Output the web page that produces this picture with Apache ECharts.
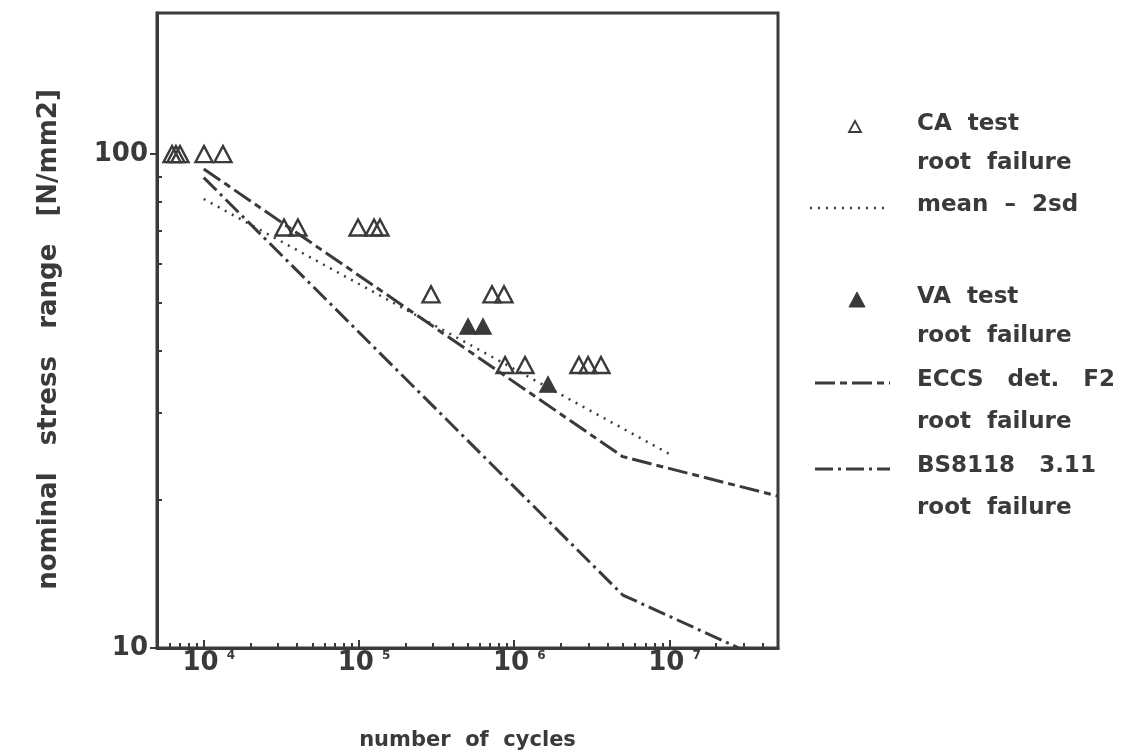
<!DOCTYPE html>
<html>
<head>
<meta charset="utf-8">
<script src="https://cdn.jsdelivr.net/npm/echarts@6/dist/echarts.min.js"></script>
<style>
html,body{margin:0;padding:0;background:#fff;}
#chart{width:1144px;height:756px;}
</style>
</head>
<body>
<div id="chart"></div>
<script>
// ---- data ----
const caCycles = [6250, 6620, 7030, 10040, 13300, 32900, 40400, 98600, 125000, 136500, 291000, 719000, 859000, 873000, 1173000, 2610000, 2990000, 3620000];
const caStress = [100, 100, 100, 100, 100, 71, 71, 71, 71, 71, 52, 52, 52, 37.4, 37.4, 37.4, 37.4, 37.4];
const vaCycles = [504000, 629000, 1650000];
const vaStress = [44.8, 44.8, 34.2];
const meanCycles = [10000, 10000000];
const meanStress = [81.1, 24.7];
const eccsCycles = [10000, 5000000, 50000000];
const eccsStress = [93.3, 24.4, 20.3];
const bsCycles = [10000, 5000000, 28000000];
const bsStress = [89.6, 12.8, 10];

const xMajorTicks = [10000, 100000, 1000000, 10000000];
const xMinorTicks = [6000, 7000, 8000, 9000, 20000, 30000, 40000, 50000, 60000, 70000, 80000, 90000,
  200000, 300000, 400000, 500000, 600000, 700000, 800000, 900000,
  2000000, 3000000, 4000000, 5000000, 6000000, 7000000, 8000000, 9000000, 20000000, 30000000, 40000000];
const yMajorTicks = [10, 100];
const yMinorTicks = [20, 30, 40, 50, 60, 70, 80, 90];
const xRange = [5000, 50000000];
const yRange = [10, 193];

const legendLabels = [
  ['CA  test', 'root  failure'],
  ['mean  \u2013  2sd'],
  ['VA  test', 'root  failure'],
  ['ECCS   det.   F2', 'root  failure'],
  ['BS8118   3.11', 'root  failure']
];

// ---- styles ----
const INK = '#3a3a3a';
const FONT = '"DejaVu Sans", sans-serif';
const dashECCS = [20, 5, 7, 5];
const dashBS = [18, 5, 3, 5];
const dashMean = [2, 6];

function zip(a, b) { return a.map((v, i) => [v, b[i]]); }

const chart = echarts.init(document.getElementById('chart'), null, {renderer: 'canvas'});

const grid = {left: 157, top: 13, right: 366, bottom: 106, show: true, borderColor: INK, borderWidth: 3, backgroundColor: 'transparent'};

const legendX0 = 917;
const legendText = [];
const legendRows = [[127, 166], [208], [300, 339], [383, 425], [469, 511]];
legendLabels.forEach((lines, i) => {
  lines.forEach((t, j) => {
    legendText.push({type: 'text', left: legendX0, top: legendRows[i][j] - 14,
      style: {text: t, font: 'bold 23px ' + FONT, fill: INK}});
  });
});

const option = {
  backgroundColor: '#fff',
  animation: false,
  grid: grid,
  xAxis: [
    {type: 'log', logBase: 10, min: xRange[0], max: xRange[1], gridIndex: 0,
      axisLine: {show: true, lineStyle: {color: INK, width: 3}},
      axisTick: {show: true, inside: true, length: 8, lineStyle: {color: INK, width: 2}, customValues: xMajorTicks},
      axisLabel: {show: true, customValues: xMajorTicks, margin: 2,
        formatter: function (v) { return '{b|10}{e|' + Math.round(Math.log10(v)) + '}'; },
        rich: {
          b: {fontFamily: FONT, fontWeight: 'bold', fontSize: 26, lineHeight: 26, color: INK, padding: [0, 0, 0, 10]},
          e: {fontFamily: FONT, fontWeight: 'bold', fontSize: 12, lineHeight: 12, color: INK, padding: [0, 0, 14, 8]}
        }},
      splitLine: {show: false},
      name: 'number  of  cycles', nameLocation: 'middle', nameGap: 82,
      nameTextStyle: {fontFamily: FONT, fontWeight: 'bold', fontSize: 21, color: INK}
    },
    {type: 'log', logBase: 10, min: xRange[0], max: xRange[1], gridIndex: 0, position: 'bottom',
      axisLine: {show: false},
      axisTick: {show: true, inside: true, length: 5, lineStyle: {color: INK, width: 2}, customValues: xMinorTicks},
      axisLabel: {show: false}, splitLine: {show: false}
    }
  ],
  yAxis: [
    {type: 'log', logBase: 10, min: yRange[0], max: yRange[1], gridIndex: 0,
      axisLine: {show: true, lineStyle: {color: INK, width: 3}},
      axisTick: {show: true, inside: false, length: 7, lineStyle: {color: INK, width: 2}, customValues: yMajorTicks},
      axisLabel: {show: true, customValues: yMajorTicks, margin: 9,
        fontFamily: FONT, fontWeight: 'bold', fontSize: 26, color: INK},
      splitLine: {show: false},
      name: 'nominal   stress   range   [N/mm2]', nameLocation: 'middle', nameGap: 95, nameRotate: 90,
      nameTextStyle: {fontFamily: FONT, fontWeight: 'bold', fontSize: 26, color: INK, padding: [0, 18, 0, 0]}
    },
    {type: 'log', logBase: 10, min: yRange[0], max: yRange[1], gridIndex: 0, position: 'left',
      axisLine: {show: false},
      axisTick: {show: true, inside: true, length: 5, lineStyle: {color: INK, width: 2}, customValues: yMinorTicks},
      axisLabel: {show: false}, splitLine: {show: false}
    }
  ],
  series: [
    {name: 'mean - 2sd', type: 'line', data: zip(meanCycles, meanStress), showSymbol: false, symbol: 'none',
      lineStyle: {color: INK, width: 2.5, type: dashMean}, z: 2},
    {name: 'ECCS det. F2', type: 'line', data: zip(eccsCycles, eccsStress), showSymbol: false, symbol: 'none',
      lineStyle: {color: INK, width: 3, type: dashECCS}, z: 2},
    {name: 'BS8118 3.11', type: 'line', data: zip(bsCycles, bsStress), showSymbol: false, symbol: 'none',
      lineStyle: {color: INK, width: 3, type: dashBS}, z: 2},
    {name: 'CA test', type: 'scatter', data: zip(caCycles, caStress), symbol: 'triangle', symbolSize: [17, 16],
      itemStyle: {color: 'rgba(255,255,255,0)', borderColor: INK, borderWidth: 2.4, opacity: 1}, z: 3},
    {name: 'VA test', type: 'scatter', data: zip(vaCycles, vaStress), symbol: 'triangle', symbolSize: [17, 16],
      itemStyle: {color: INK, borderColor: INK, borderWidth: 1, opacity: 1}, z: 3}
  ],
  graphic: [
    {type: 'polygon', shape: {points: [[855, 121], [849, 132], [861, 132]]}, style: {fill: 'none', stroke: INK, lineWidth: 1.8}},
    {type: 'line', shape: {x1: 810, y1: 208, x2: 890, y2: 208}, style: {stroke: INK, lineWidth: 2.5, lineDash: dashMean}},
    {type: 'polygon', shape: {points: [[857, 292], [849, 307], [865, 307]]}, style: {fill: INK, stroke: INK, lineWidth: 1}},
    {type: 'line', shape: {x1: 815, y1: 383, x2: 890, y2: 383}, style: {stroke: INK, lineWidth: 3, lineDash: dashECCS}},
    {type: 'line', shape: {x1: 815, y1: 469, x2: 890, y2: 469}, style: {stroke: INK, lineWidth: 3, lineDash: dashBS}}
  ].concat(legendText)
};

chart.setOption(option);
</script>
</body>
</html>
